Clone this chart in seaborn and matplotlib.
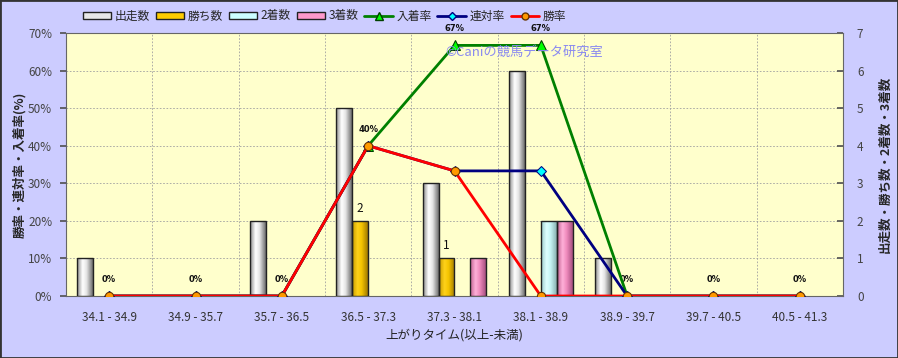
import numpy as np
import pandas as pd
import matplotlib
matplotlib.use("Agg")
import matplotlib.pyplot as plt
import seaborn as sns
from matplotlib.patches import Patch, Rectangle
from matplotlib.lines import Line2D
from matplotlib.colors import LinearSegmentedColormap

categories = ["34.1 - 34.9", "34.9 - 35.7", "35.7 - 36.5", "36.5 - 37.3", "37.3 - 38.1",
              "38.1 - 38.9", "38.9 - 39.7", "39.7 - 40.5", "40.5 - 41.3"]
starts = [1, 0, 2, 5, 3, 6, 1, 0, 0]
wins = [0, 0, 0, 2, 1, 0, 0, 0, 0]
seconds = [0, 0, 0, 0, 0, 2, 0, 0, 0]
thirds = [0, 0, 0, 0, 1, 2, 0, 0, 0]
win_rate = [0, 0, 0, 40, 33.3, 0, 0, 0, 0]
quinella_rate = [0, 0, 0, 40, 33.3, 33.3, 0, 0, 0]
place_rate = [0, 0, 0, 40, 66.7, 66.7, 0, 0, 0]
bar_series = ["出走数", "勝ち数", "2着数", "3着数"]
bar_colors = {"出走数": "#E8E8E8", "勝ち数": "#FFCC00", "2着数": "#CCFFFF", "3着数": "#FF99CC"}
grad_stops = {
    "出走数": ["#8C8C8C", "#FFFFFF", "#E6E6E6", "#6E6E6E"],
    "勝ち数": ["#C89B00", "#FFD21A", "#F5C400", "#A07A00"],
    "2着数": ["#9CCCCC", "#DFFFFF", "#C6F5F5", "#88B0B0"],
    "3着数": ["#C0608F", "#FFB0D8", "#F08CBE", "#A85080"],
}

sns.set_theme(style="white")
plt.rcParams["font.family"] = ["Noto Sans CJK JP", "DejaVu Sans"]

fig = plt.figure(figsize=(8.98, 3.58), dpi=100, facecolor="#CCCCFF")
ax = fig.add_axes([66 / 898, 1 - 296 / 358, (843 - 66) / 898, (296 - 33) / 358])
ax.set_facecolor("#FFFFCC")

df = pd.DataFrame({
    "cat": categories * 4,
    "series": np.repeat(bar_series, len(categories)),
    "count": starts + wins + seconds + thirds,
})
sns.barplot(data=df, x="cat", y="count", hue="series", order=categories,
            hue_order=bar_series, palette=bar_colors, width=0.74, saturation=1,
            edgecolor="#222222", linewidth=1.0, ax=ax, legend=False, zorder=3)

n = len(categories)
for i, p in enumerate(list(ax.patches)):
    if p.get_height() == 0:
        p.set_visible(False)
        continue
    s = bar_series[i // n]
    cmap = LinearSegmentedColormap.from_list(s, list(zip([0, 0.35, 0.6, 1], grad_stops[s])))
    x0, y0, w, h = p.get_x(), p.get_y(), p.get_width(), p.get_height()
    im = ax.imshow(np.linspace(0, 1, 64).reshape(1, -1), cmap=cmap, aspect="auto",
                   extent=[x0, x0 + w, y0, y0 + h], zorder=2.9, interpolation="bilinear")
    im.set_clip_path(p)
    p.set_facecolor("none")

ax.set_xlim(-0.5, n - 0.5)
ax.set_ylim(0, 7)
ax.set_yticks(range(0, 8))
ax.set_xticks(range(n))
ax.set_xticklabels(categories)
ax.set_xticks(np.arange(0.5, n - 0.5, 1), minor=True)
ax.grid(True, which="major", axis="y", color="#A0A0A0", linestyle=(0, (2, 2)), linewidth=0.6)
ax.grid(True, which="minor", axis="x", color="#A0A0A0", linestyle=(0, (2, 2)), linewidth=0.6)
ax.grid(False, which="major", axis="x")
ax.set_axisbelow(True)
ax.tick_params(axis="x", which="both", length=0, labelsize=8.5, labelcolor="#333333", pad=11)
ax.set_xlabel("上がりタイム(以上-未満)", fontsize=9, labelpad=3, color="#222222")
for sp in ax.spines.values():
    sp.set_color("#666666")
    sp.set_linewidth(0.8)

# bar labels for wins
for i, v in enumerate(wins):
    if v > 0:
        ax.annotate(str(v), (i - 0.74 / 8, v), xytext=(0, 9), textcoords="offset points",
                    ha="center", va="center", fontsize=8.5, color="#111111")

ax2 = ax.twinx()
xs = np.arange(n)
sns.lineplot(x=xs, y=place_rate, ax=ax2, color="#008000", linewidth=2, marker="^",
             markersize=7, markerfacecolor="#00FF00", markeredgecolor="#004000", zorder=5)
sns.lineplot(x=xs, y=quinella_rate, ax=ax2, color="#000080", linewidth=2, marker="D",
             markersize=5, markerfacecolor="#00FFFF", markeredgecolor="#000080", zorder=6)
sns.lineplot(x=xs, y=win_rate, ax=ax2, color="#FF0000", linewidth=2, marker="o",
             markersize=6, markerfacecolor="#FF9900", markeredgecolor="#663300", zorder=7)
ax2.set_xlim(-0.5, n - 0.5)
ax2.set_ylim(0, 70)
ax2.set_yticks(range(0, 80, 10))
ax2.set_yticklabels([f"{t}%" for t in range(0, 80, 10)])
ax2.yaxis.tick_left()
ax2.yaxis.set_label_position("left")
ax2.tick_params(axis="y", left=True, right=False, direction="out", length=4, color="#555555",
                labelsize=8.5, labelcolor="#444444", pad=6)
ax2.set_ylabel("勝率・連対率・入着率(%)", fontsize=9, fontweight="bold", labelpad=1)
for sp in ax2.spines.values():
    sp.set_visible(False)

# count axis on the right (set after twinx, which resets it)
ax.yaxis.tick_right()
ax.yaxis.set_label_position("right")
ax.tick_params(axis="y", left=False, right=True, labelleft=False, labelright=True,
               direction="in", length=4, color="#555555",
               labelsize=8.5, labelcolor="#444444", pad=10)
ax.set_ylabel("出走数・勝ち数・2着数・3着数", fontsize=9, fontweight="bold", labelpad=11)

for i, v in enumerate(place_rate):
    ax2.annotate(f"{round(v)}%", (i, v), xytext=(0, 12), textcoords="offset points",
                 ha="center", va="center", fontsize=6, fontweight="bold",
                 family="DejaVu Sans", color="#111111", annotation_clip=False, clip_on=False)

fig.text(445 / 898, 1 - 52 / 358, "©Caniの競馬データ研究室", fontsize=9.5,
         color="#8A8AF0", va="center", ha="left", zorder=10)

handles = [Patch(facecolor=bar_colors[s], edgecolor="#222222", linewidth=1) for s in bar_series]
handles += [
    Line2D([], [], color="#008000", lw=2, marker="^", markersize=6,
           markerfacecolor="#00FF00", markeredgecolor="#004000"),
    Line2D([], [], color="#000080", lw=2, marker="D", markersize=4,
           markerfacecolor="#00FFFF", markeredgecolor="#000080"),
    Line2D([], [], color="#FF0000", lw=2, marker="o", markersize=5,
           markerfacecolor="#FF9900", markeredgecolor="#663300"),
]
labels = bar_series + ["入着率", "連対率", "勝率"]
fig.legend(handles, labels, loc="center left", bbox_to_anchor=(78 / 898, 1 - 16 / 358),
           ncol=7, frameon=False, fontsize=8.5, handlelength=2.4, handleheight=0.6,
           handletextpad=0.3, columnspacing=0.5, borderaxespad=0)

fig.patches.append(Rectangle((0, 0), 1, 1, transform=fig.transFigure, fill=False,
                             edgecolor="#333333", linewidth=2))

fig.savefig("out.png", dpi=100, facecolor=fig.get_facecolor())
